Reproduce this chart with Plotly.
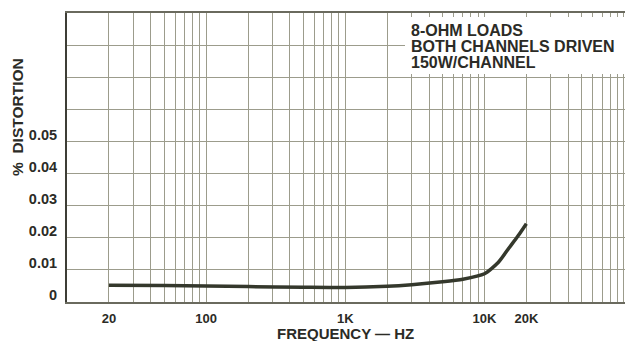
import plotly.graph_objects as go

# Data
freq_hz = [20, 50, 100, 200, 500, 1000, 2000, 3000, 5000, 7000, 10000, 12500, 15000, 17500, 20000]
distortion_pct = [0.0052, 0.0051, 0.0050, 0.0048, 0.0046, 0.0045, 0.0049, 0.0054, 0.0063,
                  0.0071, 0.0088, 0.0122, 0.0168, 0.0207, 0.0244]

x_tick_vals = [20, 100, 1000, 10000, 20000]
x_tick_text = ["20", "100", "1K", "10K", "20K"]
y_tick_vals = [0, 0.01, 0.02, 0.03, 0.04, 0.05]
y_tick_text = ["0", "0.01", "0.02", "0.03", "0.04", "0.05"]
y_extra_grid = [0.06, 0.07, 0.08]
note_lines = ["8-OHM LOADS", "BOTH CHANNELS DRIVEN", "150W/CHANNEL"]

# log-paper minor grid positions
x_minor = [m * 10 ** e for e in range(1, 5) for m in range(1, 10)] + [100000]
x_minor = [v for v in x_minor if v not in x_tick_vals]

GRID = "#9c9c8c"
INK = "#2b2b26"
FONT = "Arial"

fig = go.Figure()
fig.add_trace(go.Scatter(
    x=freq_hz, y=distortion_pct, mode="lines",
    line=dict(color="#34382c", width=3.5, shape="spline", smoothing=0.6),
    hoverinfo="skip", showlegend=False,
))

fig.update_layout(
    width=625, height=341,
    margin=dict(l=67, r=0, t=13, b=39),
    paper_bgcolor="white", plot_bgcolor="white",
    font=dict(family=FONT, color=INK),
    showlegend=False,
    xaxis=dict(
        type="log", range=[1.0, 5.01],
        tickvals=x_tick_vals, ticktext=x_tick_text,
        tickfont=dict(family=FONT, size=13, color=INK, weight="bold"),
        showgrid=True, gridcolor=GRID, gridwidth=1,
        minor=dict(tickvals=x_minor, showgrid=True, gridcolor=GRID, gridwidth=1),
        showline=True, linecolor="#6a6a5e", linewidth=1.5, mirror=True,
        ticks="", zeroline=False, ticklabelstandoff=4,
    ),
    yaxis=dict(
        range=[0, 0.09],
        tickvals=y_tick_vals, ticktext=y_tick_text,
        tickfont=dict(family=FONT, size=14.5, color=INK, weight=600),
        showgrid=True, gridcolor=GRID, gridwidth=1,
        minor=dict(tickvals=y_extra_grid, showgrid=True, gridcolor=GRID, gridwidth=1),
        showline=True, linecolor="#3e3e36", linewidth=2,
        ticks="", zeroline=False, ticklabelshift=-7, ticklabelstandoff=5,
    ),
)

# x-axis title
fig.add_annotation(
    text="FREQUENCY — HZ", xref="paper", yref="paper",
    x=(345 - 67) / 558, y=-(333 - 302) / 289, xanchor="center", yanchor="middle",
    showarrow=False, font=dict(family=FONT, size=15, color=INK, weight=600),
)
# y-axis title
fig.add_annotation(
    text="%  DISTORTION", xref="paper", yref="paper",
    x=-(67 - 18) / 558, y=(302 - 117) / 289, xanchor="center", yanchor="middle",
    textangle=-90, showarrow=False, font=dict(family=FONT, size=15.5, color=INK, weight=600),
)

# white box behind the note text
fig.add_shape(
    type="rect", xref="paper", yref="paper", layer="above",
    x0=(405 - 67) / 558, x1=1.0, y0=(302 - 74) / 289, y1=(302 - 17) / 289,
    fillcolor="white", line=dict(width=0),
)
for i, line in enumerate(note_lines):
    fig.add_annotation(
        text=line, xref="paper", yref="paper",
        x=(409 - 67) / 558, y=(302 - (30 + 16.5 * i)) / 289,
        xanchor="left", yanchor="middle", showarrow=False,
        font=dict(family=FONT, size=16, color=INK, weight=600),
    )

fig.write_html("out.html", config={"displayModeBar": False},
               post_script="document.body.style.margin='0';")
